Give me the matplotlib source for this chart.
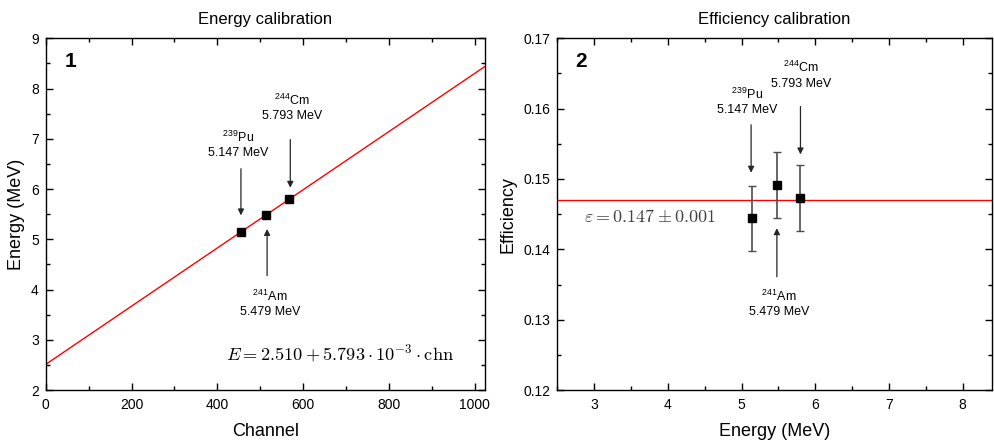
import matplotlib
matplotlib.use("Agg")
import matplotlib.pyplot as plt
import numpy as np
from matplotlib.ticker import MultipleLocator

plt.rcParams['font.family'] = ['Liberation Sans', 'DejaVu Sans']
plt.rcParams['mathtext.fontset'] = 'cm'

# calibration fit
intercept = 2.510
slope = 5.793e-3

isotopes = [r'$^{\mathregular{239}}$Pu', r'$^{\mathregular{241}}$Am', r'$^{\mathregular{244}}$Cm']
energies = [5.147, 5.479, 5.793]
channels = [455.2, 512.5, 566.7]
efficiency = [0.1444, 0.1492, 0.1473]
eff_err = [0.0046, 0.0047, 0.0047]
eff_mean = 0.147

fig = plt.figure(figsize=(9.94, 4.44), dpi=100)
ax1 = fig.add_axes([0.046, 0.1216, 0.442, 0.7921])
ax2 = fig.add_axes([0.5607, 0.1216, 0.4373, 0.7921])


def style(ax):
    ax.tick_params(which='both', direction='in', top=True, right=True, labelsize=10)
    ax.tick_params(which='major', length=5, width=1)
    ax.tick_params(which='minor', length=3, width=1)
    ax.tick_params(axis='x', pad=6)
    ax.tick_params(axis='y', pad=5)
    for s in ax.spines.values():
        s.set_linewidth(1)


arrow = dict(arrowstyle='-|>', color='0.15', lw=0.9, mutation_scale=9)

# ---- panel 1 ----
xfit = np.array([0, 1024])
ax1.plot(xfit, intercept + slope * xfit, color='red', lw=1)
ax1.plot(channels, energies, 's', color='k', ms=6)
ax1.set_xlim(0, 1024)
ax1.set_ylim(2, 9)
ax1.xaxis.set_major_locator(MultipleLocator(200))
ax1.xaxis.set_minor_locator(MultipleLocator(100))
ax1.yaxis.set_major_locator(MultipleLocator(1))
ax1.yaxis.set_minor_locator(MultipleLocator(0.5))
style(ax1)
ax1.set_xlabel('Channel', fontsize=13, labelpad=8)
ax1.set_ylabel('Energy (MeV)', fontsize=13, labelpad=4)
ax1.set_title('Energy calibration', fontsize=12, pad=10)
ax1.text(0.044, 0.935, '1', transform=ax1.transAxes, fontsize=15,
         fontweight='bold', ha='left', va='center')

lab_pos1 = [(448, 6.88), (522, 3.73), (575, 7.62)]
arr1 = [((455, 6.46), (455, 5.42)), ((516, 4.22), (516, 5.26)), ((570, 7.04), (570, 5.97))]
for name, e, (tx, ty), (a0, a1) in zip(isotopes, energies, lab_pos1, arr1):
    ax1.text(tx, ty, name + '\n%.3f MeV' % e, ha='center', va='center', fontsize=9,
             linespacing=1.25)
    ax1.annotate('', xy=a1, xytext=a0, arrowprops=arrow)
ax1.text(687, 2.72, r'$E = 2.510 + 5.793\cdot10^{-3}\cdot\mathrm{chn}$',
         ha='center', va='center', fontsize=13.2)

# ---- panel 2 ----
ax2.axhline(eff_mean, color='red', lw=1)
ax2.errorbar(energies, efficiency, yerr=eff_err, fmt='s', color='k', ms=6,
             ecolor='0.3', elinewidth=1.2, capsize=2.6, capthick=1)
ax2.set_xlim(2.5, 8.4)
ax2.set_ylim(0.12, 0.17)
ax2.xaxis.set_major_locator(MultipleLocator(1))
ax2.xaxis.set_minor_locator(MultipleLocator(0.5))
ax2.yaxis.set_major_locator(MultipleLocator(0.01))
ax2.yaxis.set_minor_locator(MultipleLocator(0.005))
style(ax2)
ax2.set_xlabel('Energy (MeV)', fontsize=13, labelpad=8)
ax2.set_ylabel('Efficiency', fontsize=13, labelpad=5)
ax2.set_title('Efficiency calibration', fontsize=12, pad=10)
ax2.text(0.042, 0.935, '2', transform=ax2.transAxes, fontsize=15,
         fontweight='bold', ha='left', va='center')

lab_pos2 = [(5.08, 0.1610), (5.51, 0.1323), (5.81, 0.1648)]
arr2 = [((5.13, 0.1581), (5.13, 0.1505)), ((5.48, 0.1357), (5.48, 0.1434)),
        ((5.80, 0.1607), (5.80, 0.1531))]
for name, e, (tx, ty), (a0, a1) in zip(isotopes, energies, lab_pos2, arr2):
    ax2.text(tx, ty, name + '\n%.3f MeV' % e, ha='center', va='center', fontsize=9,
             linespacing=1.25)
    ax2.annotate('', xy=a1, xytext=a0, arrowprops=arrow)
ax2.text(3.76, 0.1445, r'$\varepsilon = 0.147 \pm 0.001$', ha='center', va='center',
         fontsize=13, color='0.25')

fig.savefig('out.png', dpi=100)
